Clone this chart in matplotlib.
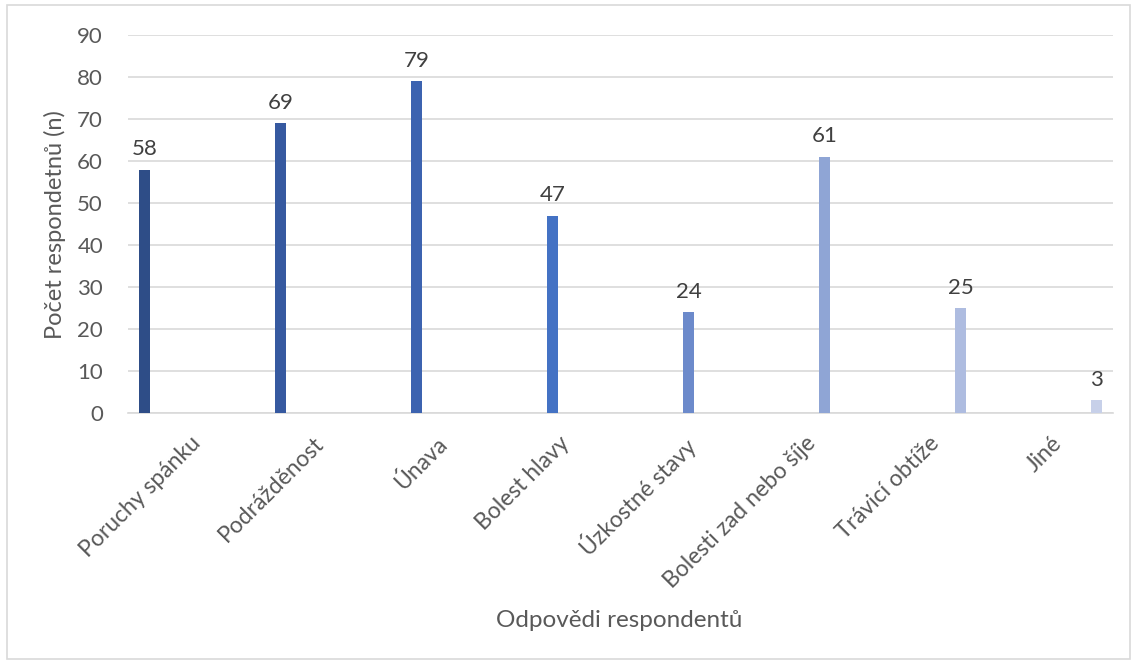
import numpy as np
import matplotlib.pyplot as plt
from matplotlib.patches import Rectangle

plt.rcParams['font.family'] = ['Lato', 'DejaVu Sans']

# data
categories = ["Poruchy spánku", "Podrážděnost", "Únava", "Bolest hlavy",
              "Úzkostné stavy", "Bolesti zad nebo šíje", "Trávicí obtíže", "Jiné"]
values = [58, 69, 79, 47, 24, 61, 25, 3]
colors = ["#2E4D87", "#3659A0", "#3C63B0", "#4472C4",
          "#6C8ACB", "#8FA5D5", "#AEBCE0", "#C7D0E9"]
y_ticks = [0, 10, 20, 30, 40, 50, 60, 70, 80, 90]

fig = plt.figure(figsize=(11.37, 6.64), dpi=100)
ax = fig.add_axes([0.1126, 0.378, 0.8663, 0.569])

# outer frame like the Excel chart area
fig.patches.append(Rectangle((0.006, 0.008), 0.988, 0.985, transform=fig.transFigure,
                             fill=False, edgecolor="#D9D9D9", linewidth=1.2))

# each answer is its own series -> bars shift across the group
n = len(categories)
step = 0.1046
bw = 0.088
x = np.arange(n)
for i in range(n):
    xi = x[i] + (i - (n - 1) / 2) * step
    ax.bar(xi, values[i], width=bw, color=colors[i], zorder=3)
    ax.text(xi, values[i] + 2.5, str(values[i]), ha="center", va="bottom",
            fontsize=16, color="#404040")

ax.set_xlim(-0.5, n - 0.5)
ax.set_ylim(0, 90)
ax.set_yticks(y_ticks)
ax.set_xticks(x)
ax.set_xticklabels(categories, rotation=45, ha="right", rotation_mode="anchor",
                   fontsize=16.5, color="#595959")
ax.tick_params(axis="y", labelsize=16, labelcolor="#595959", length=0, pad=18)
ax.tick_params(axis="x", length=0, pad=14)

ax.grid(axis="y", color="#D9D9D9", linewidth=1.2, zorder=0)
for s in ["top", "right", "left"]:
    ax.spines[s].set_visible(False)
ax.spines["bottom"].set_color("#D9D9D9")
ax.spines["bottom"].set_linewidth(1.2)

ax.set_ylabel("Počet respondetnů (n)", fontsize=17, color="#595959", labelpad=8)
fig.text(0.545, 0.065, "Odpovědi respondentů", ha="center", va="center",
         fontsize=17.5, color="#595959")

fig.savefig("out.png", dpi=100)
